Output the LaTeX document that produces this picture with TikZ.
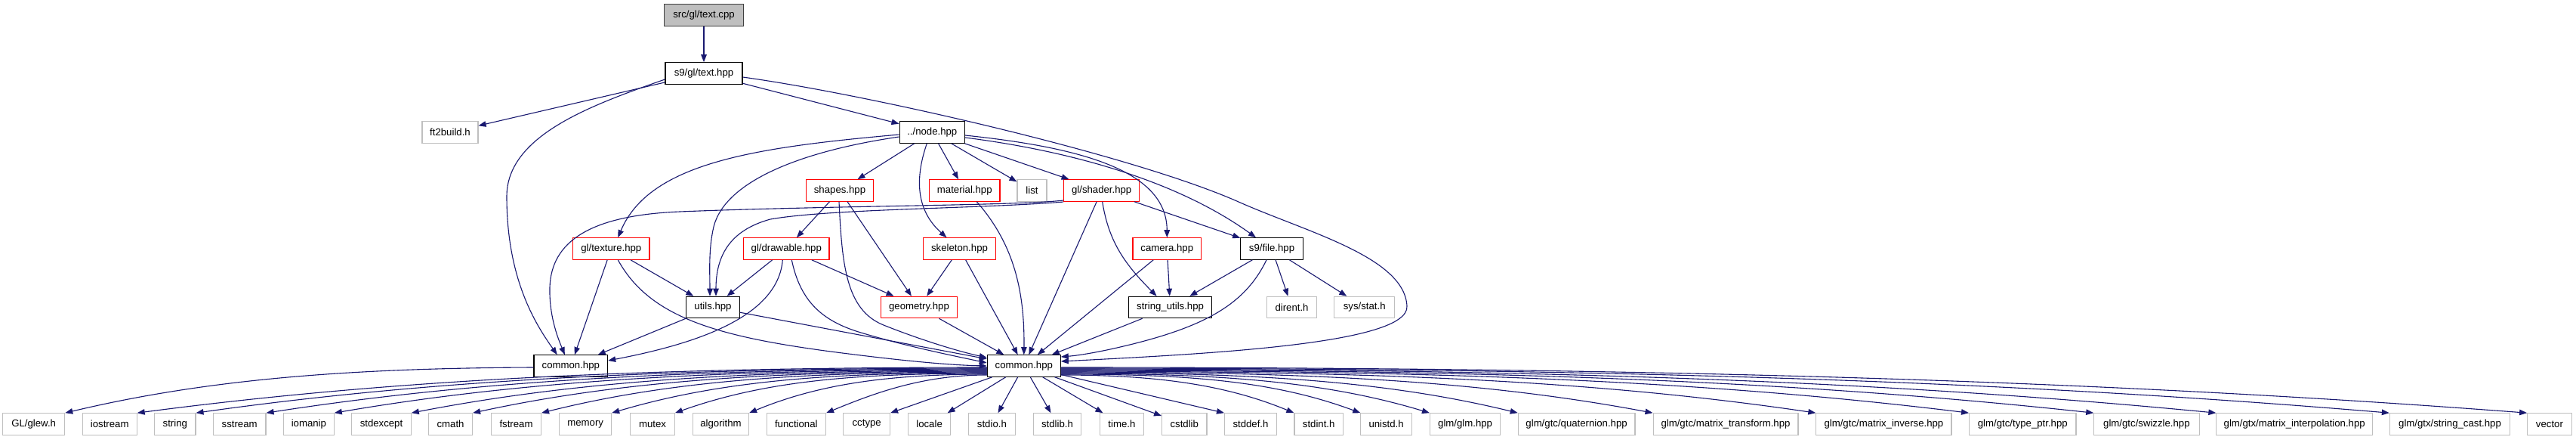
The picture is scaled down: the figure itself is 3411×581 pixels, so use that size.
\documentclass[tikz,border=0pt]{standalone}
\usepackage{fontspec}
\setmainfont{Liberation Sans}
\usetikzlibrary{arrows.meta}
\definecolor{edgeblue}{HTML}{191970}
\definecolor{boxgray}{HTML}{BFBFBF}
\definecolor{rootgray}{HTML}{BFBFBF}
\definecolor{boxred}{HTML}{FF0000}
\tikzset{
  box/.style={rectangle, draw, line width=1.1pt, minimum height=28.5pt, inner sep=0pt, font=\fontsize{13.2}{15}\selectfont, fill=white},
  doc/.style={box, draw=black},
  rootbox/.style={box, draw=black!75, fill=rootgray},
  redbox/.style={box, draw=boxred},
  ext/.style={box, draw=boxgray},
  conn/.style={draw=edgeblue, line width=1.1pt, -{Triangle[length=10pt,width=7.5pt]}},
}
\begin{document}
\begin{tikzpicture}[x=1pt, y=-1pt]
\fill[white] (0,0) rectangle (3411,581);
\useasboundingbox (0,0) rectangle (3411,581);

% ---- upper nodes
\node[rootbox, minimum width=105pt] (cpp) at (932,20) {src/gl/text.cpp};
\node[doc, minimum width=102pt] (texthpp) at (932,97) {s9/gl/text.hpp};
\node[ext, minimum width=74pt] (ft2) at (596,175) {ft2build.h};
\node[doc, minimum width=86.5pt] (node) at (1234.3,175) {../node.hpp};
\node[redbox, minimum width=89.4pt] (shapes) at (1112,252) {shapes.hpp};
\node[redbox, minimum width=93.3pt] (material) at (1277.3,252) {material.hpp};
\node[ext, minimum width=39pt] (list) at (1366.5,252) {list};
\node[redbox, minimum width=100pt] (shader) at (1458.7,252) {gl/shader.hpp};
\node[redbox, minimum width=101.3pt] (texture) at (809.3,329) {gl/texture.hpp};
\node[redbox, minimum width=113.3pt] (drawable) at (1041.3,329) {gl/drawable.hpp};
\node[redbox, minimum width=96.4pt] (skeleton) at (1270.5,329) {skeleton.hpp};
\node[redbox, minimum width=90.7pt] (camera) at (1545.3,329) {camera.hpp};
\node[doc, minimum width=82.6pt] (s9file) at (1684,329) {s9/file.hpp};
\node[doc, minimum width=70.6pt] (utils) at (944,406.5) {utils.hpp};
\node[redbox, minimum width=100.6pt] (geometry) at (1217,406.5) {geometry.hpp};
\node[doc, minimum width=110pt] (strutils) at (1549.6,406.5) {string\_utils.hpp};
\node[ext, minimum width=65.6pt] (dirent) at (1710.5,406.5) {dirent.h};
\node[ext, minimum width=80pt] (sysstat) at (1806.7,406.5) {sys/stat.h};
\node[doc, minimum width=97.7pt] (commonL) at (755.8,484) {common.hpp};
\node[doc, minimum width=97pt] (commonC) at (1355.8,484) {common.hpp};

% ---- bottom row
\node[ext, minimum width=82.1pt] (glew) at (44.7,561) {GL/glew.h};
\node[ext, minimum width=71.9pt] (iostream) at (145.2,561) {iostream};
\node[ext, minimum width=54.3pt] (string) at (231.8,561) {string};
\node[ext, minimum width=69.6pt] (sstream) at (317.2,561) {sstream};
\node[ext, minimum width=66.7pt] (iomanip) at (408.9,561) {iomanip};
\node[ext, minimum width=78.5pt] (stdexcept) at (505,561) {stdexcept};
\node[ext, minimum width=57.9pt] (cmath) at (596.6,561) {cmath};
\node[ext, minimum width=66pt] (fstream) at (683.5,561) {fstream};
\node[ext, minimum width=68.9pt] (memory) at (775.2,561) {memory};
\node[ext, minimum width=58.7pt] (mutex) at (864,561) {mutex};
\node[ext, minimum width=74.1pt] (algorithm) at (954.5,561) {algorithm};
\node[ext, minimum width=78.5pt] (functional) at (1054.3,561) {functional};
\node[ext, minimum width=61.6pt] (cctype) at (1147.7,561) {cctype};
\node[ext, minimum width=55.7pt] (locale) at (1230.6,561) {locale};
\node[ext, minimum width=61.6pt] (stdio) at (1313.4,561) {stdio.h};
\node[ext, minimum width=63.1pt] (stdlib) at (1400,561) {stdlib.h};
\node[ext, minimum width=58pt] (timeh) at (1485.4,561) {time.h};
\node[ext, minimum width=59.4pt] (cstdlib) at (1568.3,561) {cstdlib};
\node[ext, minimum width=68.9pt] (stddef) at (1656,561) {stddef.h};
\node[ext, minimum width=64.5pt] (stdint) at (1746.2,561) {stdint.h};
\node[ext, minimum width=67.4pt] (unistd) at (1835.6,561) {unistd.h};
\node[ext, minimum width=93.2pt] (glm) at (1940.1,561) {glm/glm.hpp};
\node[ext, minimum width=154.7pt] (quat) at (2087.6,561) {glm/gtc/quaternion.hpp};
\node[ext, minimum width=191.9pt] (mtrans) at (2285,561) {glm/gtc/matrix\_transform.hpp};
\node[ext, minimum width=179.1pt] (minv) at (2494.4,561) {glm/gtc/matrix\_inverse.hpp};
\node[ext, minimum width=141.4pt] (typeptr) at (2678.3,561) {glm/gtc/type\_ptr.hpp};
\node[ext, minimum width=139.3pt] (swizzle) at (2842.4,561) {glm/gtc/swizzle.hpp};
\node[ext, minimum width=206.6pt] (minterp) at (3038.2,561) {glm/gtx/matrix\_interpolation.hpp};
\node[ext, minimum width=159.2pt] (strcast) at (3244,561) {glm/gtx/string\_cast.hpp};
\node[ext, minimum width=58.5pt] (vector) at (3375.9,561) {vector};

% ---- upper edges
\draw[conn] (cpp) -- (texthpp);
\draw[conn] (texthpp) -- (ft2);
\draw[conn] (texthpp) -- (node);
\draw[conn] ([yshift=-8pt]texthpp.west) .. controls (780,140) and (671,180) .. (671,260)
   .. controls (671,370) and (710,430) .. ([xshift=-18pt]commonL.north);
\draw[conn] ([yshift=-5pt]texthpp.east) .. controls (1150,125) and (1500,205) .. (1640,267)
   .. controls (1730,307) and (1860,340) .. (1863,405)
   .. controls (1866,455) and (1600,468) .. ([yshift=6pt]commonC.east);
\draw[conn] (node) -- (shapes);
\draw[conn] (node) -- (material);
\draw[conn] (node) -- (list);
\draw[conn] (node) -- (shader);
\draw[conn] ([yshift=-3pt]node.west) .. controls (1000,195) and (860,215) .. ([xshift=9pt]texture.north);
\draw[conn] ([yshift=-6pt]node.west) .. controls (1060,200) and (960,240) .. (945,300)
   .. controls (938,330) and (940,360) .. ([xshift=-4pt]utils.north);
\draw[conn] ([xshift=-7pt]node.south) .. controls (1210,240) and (1215,280) .. ([xshift=-17pt]skeleton.north);
\draw[conn] ([yshift=-4pt]node.east) .. controls (1430,195) and (1545,225) .. (camera.north);
\draw[conn] ([yshift=-7pt]node.east) .. controls (1420,200) and (1560,240) .. ([xshift=-21pt]s9file.north);
\draw[conn] (shader) -- (s9file);
\draw[conn] ([yshift=-13pt]shader.west) .. controls (1350,272) and (1100,272) .. (900,280)
   .. controls (780,285) and (730,320) .. (728,380)
   .. controls (727,420) and (740,450) .. ([xshift=-8pt]commonL.north);
\draw[conn] ([yshift=-15pt]shader.west) .. controls (1300,276) and (1100,276) .. (1020,290)
   .. controls (965,305) and (948,340) .. ([xshift=4pt]utils.north);
\draw[conn] (shader) -- (commonC);
\draw[conn] ([xshift=1pt]shader.south) .. controls (1468,320) and (1490,350) .. ([xshift=-18pt]strutils.north);
\draw[conn] ([xshift=16pt]material.south) .. controls (1340,320) and (1357,380) .. (commonC.north);
\draw[conn] (skeleton) -- (geometry);
\draw[conn] (skeleton) -- (commonC);
\draw[conn] (geometry) -- (commonC);
\draw[conn] (shapes) -- (drawable);
\draw[conn] (shapes) -- (geometry);
\draw[conn] ([xshift=-1pt]shapes.south) .. controls (1115,350) and (1120,410) .. (1170,430)
   .. controls (1220,450) and (1270,465) .. ([yshift=11pt]commonC.west);
\draw[conn] (drawable) -- (utils);
\draw[conn] ([xshift=-5pt]drawable.south) .. controls (1030,420) and (920,455) .. ([yshift=7pt]commonL.east);
\draw[conn] ([xshift=7pt]drawable.south) .. controls (1060,400) and (1090,425) .. (1140,440)
   .. controls (1200,458) and (1260,470) .. ([yshift=4pt]commonC.west);
\draw[conn] (drawable) -- (geometry);
\draw[conn] (texture) -- (commonL);
\draw[conn] (texture) -- (utils);
\draw[conn] ([xshift=9pt]texture.south) .. controls (860,420) and (950,445) .. (1100,465)
   .. controls (1200,478) and (1260,483) .. ([yshift=0pt]commonC.west);
\draw[conn] (utils) -- (commonL);
\draw[conn] (utils) -- (commonC);
\draw[conn] (camera) -- (strutils);
\draw[conn] (camera) -- (commonC);
\draw[conn] (s9file) -- (strutils);
\draw[conn] (s9file) -- (dirent);
\draw[conn] (s9file) -- (sysstat);
\draw[conn] ([xshift=-7pt]s9file.south) .. controls (1650,400) and (1600,430) .. (1500,455)
   .. controls (1460,465) and (1430,470) .. ([yshift=12pt]commonC.east);
\draw[conn] (strutils) -- (commonC);

% ---- bottom edges
\draw[conn] ([yshift=-2pt]commonL.west) .. controls (459,487) and (272,502) .. (glew.north east);
\draw[conn] ([yshift=-2pt]commonC.west) .. controls (856.9,486) and (519,502) .. (iostream.north east);
\draw[conn] ([yshift=-3pt]commonC.west) .. controls (888,487) and (573.4,502) .. (string.north east);
\draw[conn] ([yshift=-4pt]commonC.west) .. controls (925.2,488) and (638.6,502) .. (sstream.north east);
\draw[conn] ([yshift=-5pt]commonC.west) .. controls (961.3,489) and (701.7,502) .. (iomanip.north east);
\draw[conn] ([yshift=-6pt]commonC.west) .. controls (1002,490) and (773.1,502) .. (stdexcept.north east);
\draw[conn] ([yshift=-7pt]commonC.west) .. controls (1034.6,491) and (830.1,502) .. (cmath.north east);
\draw[conn] ([yshift=-8pt]commonC.west) .. controls (1071,492) and (893.7,502) .. (fstream.north east);
\draw[conn] ([yshift=-9pt]commonC.west) .. controls (1108.3,493) and (959,502) .. (memory.north east);
\draw[conn] ([yshift=-10pt]commonC.west) .. controls (1141.7,494) and (1017.5,502) .. (mutex.north east);
\draw[conn] ([yshift=-11pt]commonC.west) .. controls (1181,495) and (1086.3,507) .. (algorithm.north east);
\draw[conn] ([yshift=-12pt]commonC.west) .. controls (1221.8,496) and (1157.6,520) .. (functional.north east);
\draw[conn] (commonC) -- (cctype.north east);
\draw[conn] (commonC) -- (locale);
\draw[conn] (commonC) -- (stdio);
\draw[conn] (commonC) -- (stdlib);
\draw[conn] (commonC) -- (timeh);
\draw[conn] (commonC) -- (cstdlib);
\draw[conn] (commonC) -- (stddef.north west);
\draw[conn] ([yshift=-12pt]commonC.east) .. controls (1528.1,496) and (1621,508) .. (stdint.north west);
\draw[conn] ([yshift=-11pt]commonC.east) .. controls (1563.3,495) and (1682.6,502) .. (unistd.north west);
\draw[conn] ([yshift=-10pt]commonC.east) .. controls (1600,494) and (1746.7,502) .. (glm.north west);
\draw[conn] ([yshift=-9pt]commonC.east) .. controls (1646.7,493) and (1828.4,502) .. (quat.north west);
\draw[conn] ([yshift=-8pt]commonC.east) .. controls (1718.2,492) and (1953.7,502) .. (mtrans.north west);
\draw[conn] ([yshift=-7pt]commonC.east) .. controls (1804.5,491) and (2104.6,502) .. (minv.north west);
\draw[conn] ([yshift=-6pt]commonC.east) .. controls (1885.6,490) and (2246.6,502) .. (typeptr.north west);
\draw[conn] ([yshift=-5pt]commonC.east) .. controls (1951.7,489) and (2362.2,502) .. (swizzle.north west);
\draw[conn] ([yshift=-4pt]commonC.east) .. controls (2016.5,488) and (2475.7,502) .. (minterp.north west);
\draw[conn] ([yshift=-3pt]commonC.east) .. controls (2108.3,487) and (2636.4,502) .. (strcast.north west);
\draw[conn] ([yshift=-2pt]commonC.east) .. controls (2181.2,486) and (2763.9,502) .. (vector.north west);
\end{tikzpicture}
\end{document}
